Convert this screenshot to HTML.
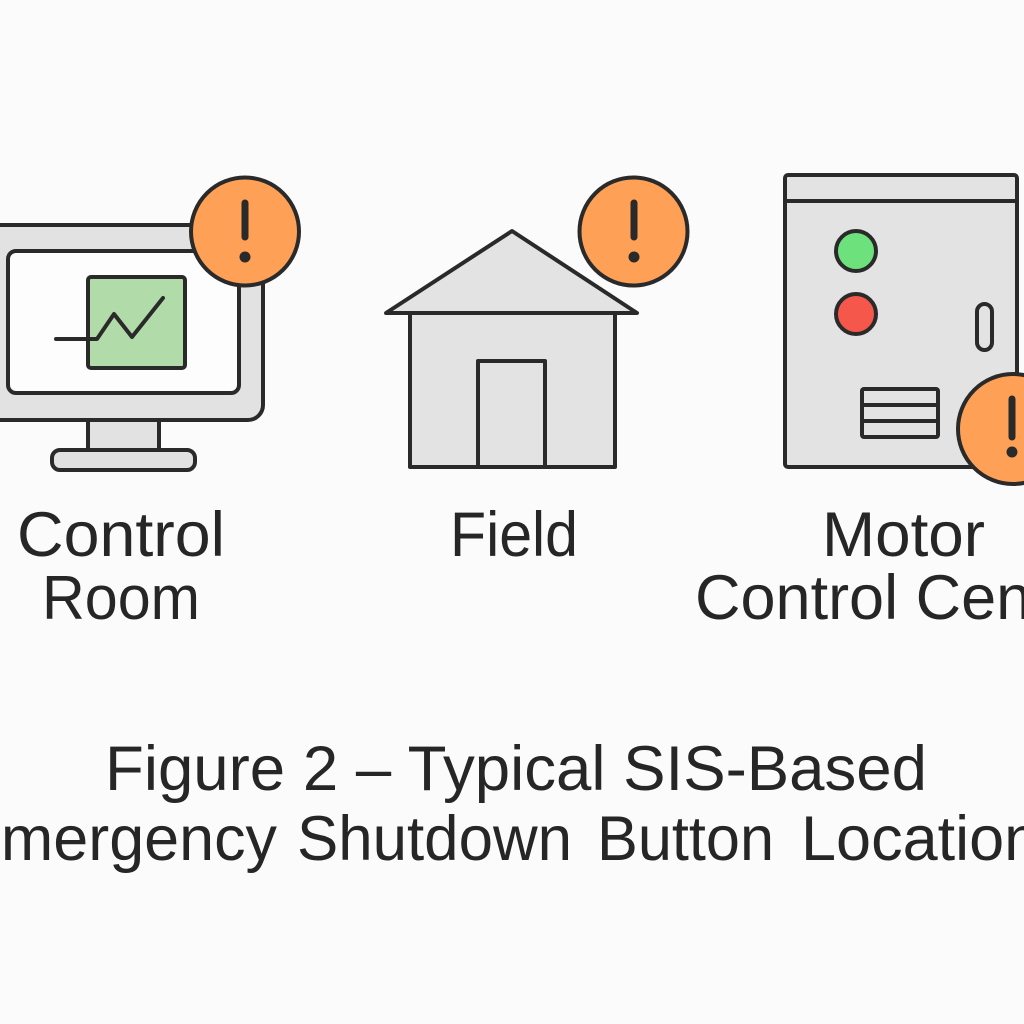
<!DOCTYPE html>
<html>
<head>
<meta charset="utf-8">
<style>
  html,body{margin:0;padding:0;background:#fbfbfb;}
  body{width:1024px;height:1024px;overflow:hidden;}
  svg{display:block;}
  text{font-family:"Liberation Sans", sans-serif;fill:#262626;}
</style>
</head>
<body>
<svg width="1024" height="1024" viewBox="0 0 1024 1024" xmlns="http://www.w3.org/2000/svg">
  <rect x="0" y="0" width="1024" height="1024" fill="#fbfbfb"/>

  <g stroke="#2a2a2a" stroke-width="4" stroke-linejoin="round" stroke-linecap="round">
    <!-- Monitor -->
    <rect x="-14" y="225" width="277" height="195" rx="15" fill="#e2e2e2"/>
    <rect x="8" y="251" width="231" height="142" rx="8" fill="#fdfdfd"/>
    <rect x="88" y="420" width="71" height="30" fill="#e2e2e2"/>
    <rect x="52" y="450" width="143" height="20" rx="8" fill="#e2e2e2"/>
    <rect x="88" y="277" width="97" height="91" rx="3" fill="#b1dcaa"/>
    <polyline points="56,339 97,339 114,314 132,337 163,298" fill="none"/>

    <!-- House -->
    <polygon points="386,313 512,231 637,313" fill="#e3e3e3"/>
    <rect x="410" y="313" width="205" height="154" fill="#e3e3e3"/>
    <rect x="478" y="361" width="67" height="106" fill="#e3e3e3"/>

    <!-- MCC -->
    <rect x="785" y="175" width="232" height="292" rx="3" fill="#e3e3e3"/>
    <line x1="785" y1="201" x2="1017" y2="201"/>
    <circle cx="856" cy="251" r="20" fill="#6de27c"/>
    <circle cx="856" cy="314" r="20" fill="#f5584b"/>
    <rect x="977" y="304" width="15" height="46" rx="7.5" fill="#e3e3e3"/>
    <rect x="862" y="389" width="76" height="48" rx="2" fill="#e3e3e3"/>
    <line x1="862" y1="405" x2="938" y2="405"/>
    <line x1="862" y1="421" x2="938" y2="421"/>

    <!-- Alerts -->
    <circle cx="245" cy="231.5" r="54" fill="#ffa057"/>
    <circle cx="633.5" cy="231.5" r="54" fill="#ffa057"/>
    <circle cx="1013" cy="429" r="55" fill="#ffa057"/>
  </g>

  <!-- exclamation marks -->
  <g stroke="#2a2a2a" stroke-width="7" stroke-linecap="round" fill="#2a2a2a">
    <line x1="245" y1="203" x2="245" y2="237"/>
    <line x1="634" y1="203" x2="634" y2="237"/>
    <line x1="1012" y1="399" x2="1012" y2="437"/>
  </g>
  <g fill="#2a2a2a">
    <circle cx="245" cy="257" r="5.5"/>
    <circle cx="634" cy="257" r="5.5"/>
    <circle cx="1012" cy="452" r="5.5"/>
  </g>

  <!-- Labels -->
  <text x="17" y="556" font-size="63" textLength="208" lengthAdjust="spacingAndGlyphs">Control</text>
  <text x="42" y="619" font-size="62" textLength="158" lengthAdjust="spacingAndGlyphs">Room</text>
  <text x="450" y="556" font-size="63" textLength="128" lengthAdjust="spacingAndGlyphs">Field</text>
  <text x="822" y="556" font-size="63" textLength="163" lengthAdjust="spacingAndGlyphs">Motor</text>
  <text x="695" y="619" font-size="63">Control Center</text>

  <!-- Title -->
  <text x="105" y="790" font-size="63" textLength="822" lengthAdjust="spacingAndGlyphs">Figure 2 – Typical SIS-Based</text>
  <text x="-41" y="860" font-size="63" textLength="318" lengthAdjust="spacingAndGlyphs">Emergency</text>
  <text x="297" y="860" font-size="63" textLength="275" lengthAdjust="spacingAndGlyphs">Shutdown</text>
  <text x="597" y="860" font-size="63" textLength="177" lengthAdjust="spacingAndGlyphs">Button</text>
  <text x="801" y="860" font-size="63">Locations</text>
</svg>
</body>
</html>
